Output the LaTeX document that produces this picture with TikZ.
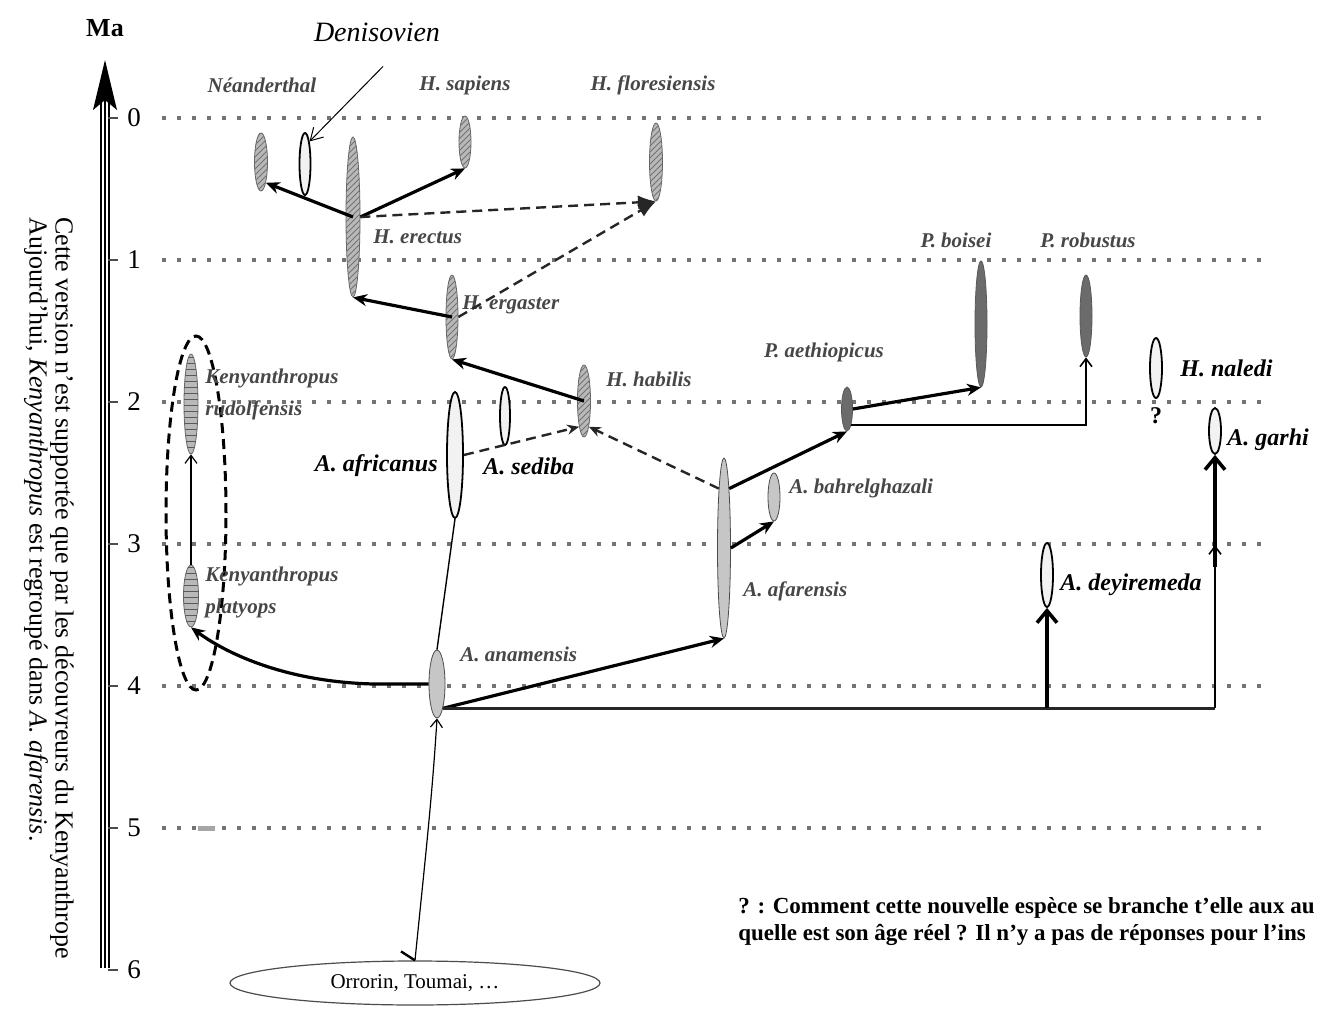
\documentclass[tikz,border=0pt]{standalone}
\usepackage{fontspec}
\setmainfont{Liberation Serif}
\usetikzlibrary{shapes.geometric,arrows.meta,patterns}

\begin{document}
\begin{tikzpicture}[x=0.5pt,y=-0.5pt,
  sp/.style={ellipse,inner sep=0pt,line width=0.4pt},
  homo/.style={sp,draw=black!60,fill=gray!55,postaction={pattern=north east lines,pattern color=black!55}},
  kenya/.style={sp,draw=black!60,fill=gray!55,postaction={pattern=horizontal lines,pattern color=black!65}},
  paran/.style={sp,draw=black!65,fill=black!58},
  austra/.style={sp,draw=black!70,fill=gray!45},
  neuf/.style={sp,draw=black,line width=0.9pt,fill=gray!10},
  lab/.style={font=\fontsize{10.5}{16}\selectfont\bfseries\itshape,text=black!72,inner sep=0pt,align=left},
  newlab/.style={font=\fontsize{12}{14}\selectfont\bfseries\itshape,inner sep=0pt},
  grosse/.style={line width=1.6pt,-{Stealth[length=7pt,width=6pt]}},
  fine/.style={line width=0.6pt,-{Straight Barb[length=4pt,width=6pt]}},
  barbe/.style={line width=1.8pt,-{Straight Barb[length=6pt,width=10pt]}},
  tiret/.style={black!85,line width=1.2pt,dash pattern=on 5pt off 3pt,-{Stealth[length=6pt,width=5pt]}},
  pointille/.style={black!55,line width=2pt,dash pattern=on 2pt off 5.5pt}]

\path[fill=white] (0,0) rectangle (1324,1012);
\useasboundingbox (0,0) rectangle (1324,1012);

% axe des temps
\foreach \u in {101,105,109}
  \draw[line width=0.9pt] (\u,968) -- (\u,100);
\fill (105,60) -- (117,110) -- (105,100) -- (93,110) -- cycle;
\node[font=\fontsize{13}{15}\selectfont\bfseries] (ma) at (105,28) {Ma};
\foreach \k in {0,...,6} {
  \draw[black!70,line width=0.8pt] (108,118+142*\k) -- (118,118+142*\k);
  \node[font=\fontsize{13.5}{15}\selectfont] at (134,118+142*\k) {\k};
}
\foreach \k in {0,...,5}
  \draw[pointille] (162,118+142*\k) -- (1262,118+142*\k);
\fill[gray!70] (198,826) rectangle (215,831);

% especes
\node[homo,minimum width=6.5pt,minimum height=29pt] (neand) at (261,162) {};
\node[neuf,minimum width=5.5pt,minimum height=31pt] (denis) at (305,164) {};
\node[homo,minimum width=7pt,minimum height=80pt] (erectus) at (353,217) {};
\node[homo,minimum width=6pt,minimum height=26pt] (sapiens) at (465,142) {};
\node[homo,minimum width=6.5pt,minimum height=39pt] (flores) at (656,162) {};
\node[homo,minimum width=6pt,minimum height=42pt] (ergaster) at (452,317) {};
\node[homo,minimum width=6.5pt,minimum height=36pt] (habilis) at (584,401) {};
\node[neuf,minimum width=8pt,minimum height=63pt] (africanus) at (455,455) {};
\node[neuf,minimum width=5pt,minimum height=29pt] (sediba) at (505,416) {};
\node[austra,minimum width=6.5pt,minimum height=90pt] (afarensis) at (724,548) {};
\node[austra,minimum width=6pt,minimum height=24pt] (bahrel) at (774,497) {};
\node[paran,minimum width=5.5pt,minimum height=22pt] (aethio) at (847,409) {};
\node[paran,minimum width=6pt,minimum height=63pt] (boisei) at (981,324) {};
\node[paran,minimum width=6pt,minimum height=41pt] (robustus) at (1086,316) {};
\node[neuf,minimum width=6pt,minimum height=30pt] (naledi) at (1156,368) {};
\node[neuf,minimum width=6pt,minimum height=23pt] (garhi) at (1215,431) {};
\node[neuf,minimum width=6pt,minimum height=32pt] (deyir) at (1047,575) {};
\node[austra,minimum width=8pt,minimum height=34pt] (anam) at (437,684) {};
\node[kenya,minimum width=7pt,minimum height=50pt] (rudolf) at (191,404) {};
\node[kenya,minimum width=7.5pt,minimum height=31pt] (platyops) at (191,596) {};
\draw[line width=1.5pt,dash pattern=on 5pt off 3pt] (196,513) ellipse (15pt and 88.5pt);
\node[ellipse,draw=black!70,line width=0.6pt,minimum width=185pt,minimum height=22pt,
  font=\fontsize{10.5}{12}\selectfont] (orrorin) at (415,983) {Orrorin, Toumai, \dots};

% noms
\node[lab] at (262,85) {Néanderthal};
\node[lab] at (465,85) {H. sapiens};
\node[lab] at (653,85) {H. floresiensis};
\node[lab,anchor=west] at (373,237) {H. erectus};
\node[lab,anchor=west] at (462,305) {H. ergaster};
\node[lab,anchor=west] at (606,379) {H. habilis};
\node[lab] at (824,352) {P. aethiopicus};
\node[lab] at (956,240) {P. boisei};
\node[lab] at (1088,240) {P. robustus};
\node[lab,anchor=west] at (789,488) {A. bahrelghazali};
\node[lab,anchor=west] at (743,591) {A. afarensis};
\node[lab,anchor=west] at (460,654) {A. anamensis};
\node[lab,anchor=west] at (205,394) {Kenyanthropus\\rudolfensis};
\node[lab,anchor=west] at (205,592) {Kenyanthropus\\platyops};
\node[newlab,anchor=east] at (438,466) {A. africanus};
\node[newlab,anchor=west] at (483,466) {A. sediba};
\node[newlab,anchor=west] at (1180,368) {H. naledi};
\node[newlab,anchor=west] at (1227,440) {A. garhi};
\node[newlab,anchor=west] at (1060,585) {A. deyiremeda};
\node[font=\fontsize{12}{14}\selectfont\bfseries] at (1156,416) {?};
\node[font=\fontsize{14}{16}\selectfont\itshape] (denislab) at (377,32) {Denisovien};

% filiations
\draw[line width=0.5pt,-{Straight Barb[length=6pt,width=7pt]}]
  ([xshift=3pt,yshift=-9pt]denislab.south) -- (denis.north east);
\draw[grosse] (erectus.center) -- (neand.south east);
\draw[grosse] (erectus.east) -- (sapiens.south);
\draw[tiret,-{Latex[length=9pt,width=7pt]}] (erectus.east) -- (flores.south);
\draw[tiret,-{Latex[length=9pt,width=7pt]}] (ergaster.east) -- (flores.south);
\draw[grosse] (ergaster.center) -- (erectus.south);
\draw[grosse] (habilis.center) -- (ergaster.south);
\draw[tiret] (africanus.east) -- (habilis.south west);
\draw[tiret] (afarensis.95) -- (habilis.south east);
\draw[grosse] (afarensis.85) -- (aethio.south);
\draw[grosse] (afarensis.east) -- (bahrel.south);
\draw[grosse] (aethio.east) -- (boisei.south);
\draw[fine,line width=0.8pt] (aethio.south east) -- (robustus.south |- aethio.south east) -- (robustus.south);
\draw[grosse] (anam.south east) -- (afarensis.south);
\draw[grosse] (anam.west) -- ++(-55,0) .. controls (290,682) and (230,656) .. (platyops.south);
\draw[fine] (platyops.north) -- (rudolf.south);
\draw[line width=0.7pt] (anam.north) -- (africanus.south);
\draw[line width=1.2pt] ([shift={(-7pt,4.5pt)}]orrorin.north) -- (orrorin.north);
\draw[fine] (orrorin.north) .. controls (424,870) and (432,800) .. (anam.south);

% nouvelles especes
\coordinate (g3) at (1215,545);
\coordinate (g1) at (1215,567);
\draw[line width=1.3pt,black!85] (anam.south east) -- (garhi.south |- anam.south east);
\draw[fine,line width=0.8pt] (garhi.south |- anam.south east) -- (g3);
\draw[barbe] (g1) -- (garhi.south);
\draw[barbe] (deyir.south |- anam.south east) -- (deyir.south);

% textes
\node[rotate=-90,anchor=north west,align=left,inner sep=0pt,
  font=\fontsize{13}{11.5}\selectfont] (note) at (74,217)
  {\lineskiplimit=-20pt\relax
   Cette version n’est supportée que par les découvreurs du Kenyanthrope\\
   Aujourd’hui, \textit{Kenyanthropus} est regroupé dans \textit{A. afarensis}.};
\node[anchor=north west,align=left,inner sep=0pt,
  font=\fontsize{11.5}{13.5}\selectfont\bfseries] (question) at (738,897)
  {? : Comment cette nouvelle espèce se branche t’elle aux au\\
   quelle est son âge réel ? Il n’y a pas de réponses pour l’ins};
\end{tikzpicture}
\end{document}
